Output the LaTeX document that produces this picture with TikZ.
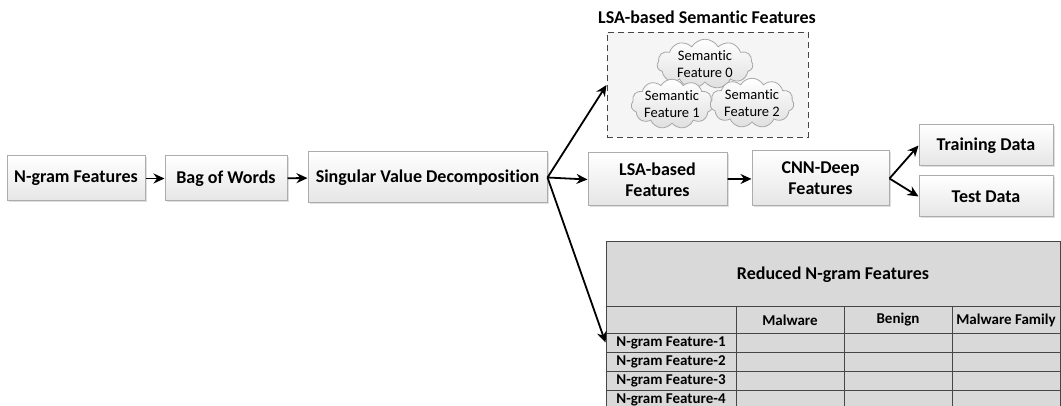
\documentclass[tikz,border=0pt]{standalone}
\usepackage{fontspec}
\setmainfont{Carlito}[Ligatures=NoCommon]
\usetikzlibrary{arrows.meta,shapes.symbols,shadows}
\tikzset{
  box/.style={draw=gray!65, line width=1pt, top color=white, bottom color=gray!20,
    align=center, inner sep=0pt, font=\fontsize{18}{21}\selectfont\bfseries,
    drop shadow={shadow xshift=1.5pt, shadow yshift=-1.5pt, opacity=0.25}},
  arr/.style={line width=1.8pt, -{Stealth[length=11pt,width=10pt]}},
  sem/.style={cloud, cloud puffs=11, cloud puff arc=120, cloud ignores aspect,
    draw=gray!70, line width=0.8pt, top color=white, bottom color=gray!25,
    align=center, inner sep=0pt, font=\fontsize{14.5}{17}\selectfont},
  cell/.style={draw=gray!55!black, line width=1pt, fill=gray!30, inner sep=0pt,
    minimum height=19, font=\fontsize{15}{17}\selectfont\bfseries}
}
\begin{document}
\begin{tikzpicture}[x=1pt,y=-1pt]
    \useasboundingbox (0,0) rectangle (1061,406);
    % main chain
    \node[box, minimum width=138, minimum height=45] (ngram) at (76,178.5) {N-gram Features};
    \node[box, minimum width=122, minimum height=45] (bow) at (226,178.5) {Bag of Words};
    \node[box, minimum width=239, minimum height=51] (svd) at (427.5,177.5) {Singular Value Decomposition};
    \node[box, minimum width=139, minimum height=53] (lsa) at (657.5,179.5) {LSA-based\\Features};
    \node[box, minimum width=137, minimum height=55] (cnn) at (820.5,178.5) {CNN-Deep\\Features};
    \node[box, minimum width=134, minimum height=41] (train) at (986,145.5) {Training Data};
    \node[box, minimum width=134, minimum height=41] (test) at (986,196.5) {Test Data};
    % semantic features
    \node[font=\fontsize{18}{21}\selectfont\bfseries] (semtitle) at (707,17) {LSA-based Semantic Features};
    \node[draw=gray!55!black, dashed, dash pattern=on 6pt off 4pt, line width=1pt, fill=gray!8,
      minimum width=201, minimum height=105] (sembox) at (707.5,85) {};
    \node[sem, minimum width=96, minimum height=49] (sem0) at (705,64) {Semantic\\Feature 0};
    \node[sem, minimum width=78, minimum height=46] (sem1) at (672,104) {Semantic\\Feature 1};
    \node[sem, minimum width=84, minimum height=48] (sem2) at (752,103) {Semantic\\Feature 2};
    % reduced table
    \node[cell, minimum width=454, minimum height=65, font=\fontsize{18}{21}\selectfont\bfseries] (tblhead) at (833,274.5) {Reduced N-gram Features};
    \foreach \x/\w/\txt [count=\i] in {671/130/{}, 790/108/Malware, 898/108/Benign, 1006/108/Malware Family}
        \node[cell, minimum width=\w, minimum height=26] (col\i) at (\x,320) {\txt};
    \foreach \i in {1,...,4} {
        \node[cell, minimum width=130] (feat\i) at (671,{323.5+19*\i}) {N-gram Feature-\i};
        \foreach \x [count=\j] in {790,898,1006}
            \node[cell, minimum width=108] (val\i\j) at (\x,{323.5+19*\i}) {};
    }
    \draw[arr] (ngram) -- (bow);
    \draw[arr] (bow) -- (svd);
    \draw[arr] (svd.east) -- (lsa.west);
    \draw[arr] (svd.east) -- (sembox.west);
    \draw[arr] (svd.east) -- (feat1.west);
    \draw[arr] (lsa) -- (cnn);
    \draw[arr] (cnn.east) -- (train.west);
    \draw[arr] (cnn.east) -- (test.west);
\end{tikzpicture}
\end{document}
